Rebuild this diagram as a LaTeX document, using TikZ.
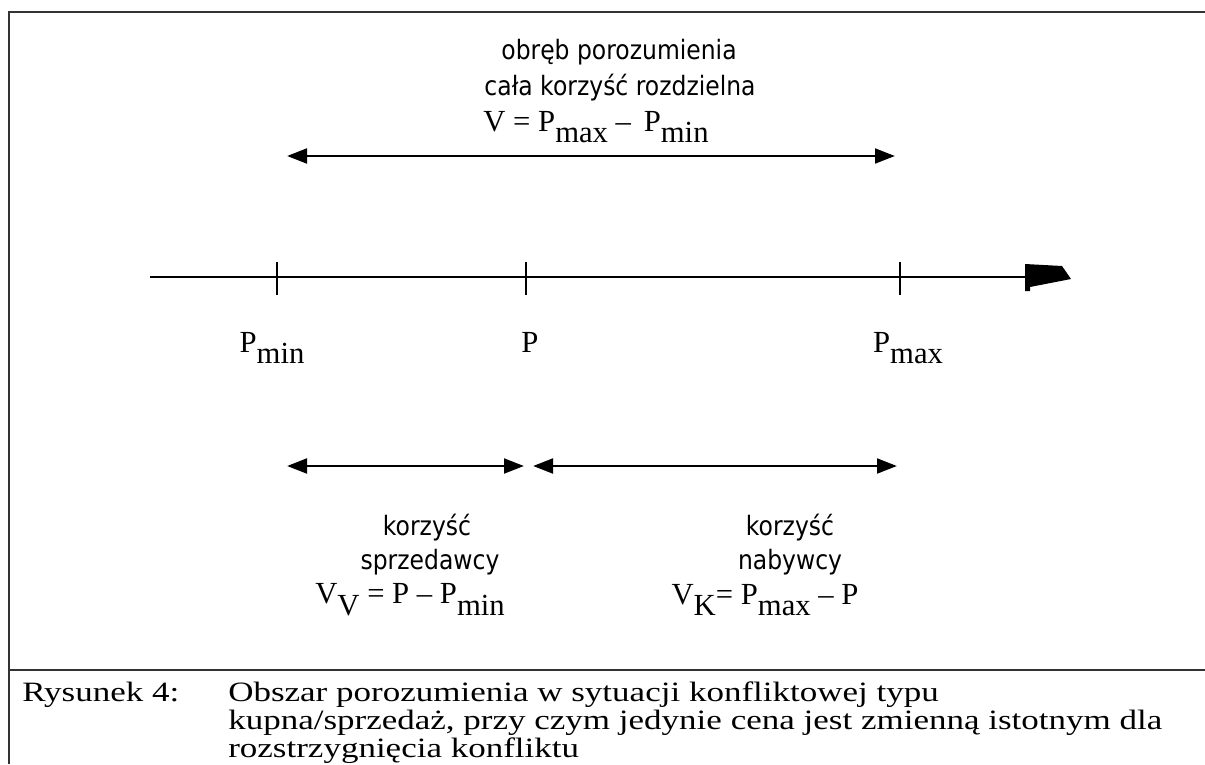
\documentclass[tikz,border=0pt]{standalone}
\usepackage{fontspec}
\usetikzlibrary{arrows.meta}
\newfontfamily\tms{Liberation Serif}
\newfontfamily\tmscap[FakeStretch=1.25]{Liberation Serif}
\newfontfamily\vsans[FakeStretch=0.88]{DejaVu Sans}
\newcommand{\lowsub}[1]{\raisebox{-0.38em}{#1}}
\tikzset{
  frameline/.style={line width=1.5pt, draw=black!80},
  axisline/.style={line width=2.2pt},
  rangearrow/.style={line width=2.2pt, {Triangle[length=15pt,width=11pt]}-{Triangle[length=15pt,width=11pt]}},
  tickline/.style={line width=1.6pt},
  sanslbl/.style={font=\vsans\fontsize{20pt}{23pt}\selectfont, inner sep=0pt, align=center},
  seriflbl/.style={font=\tms\fontsize{23pt}{26pt}\selectfont, inner sep=0pt},
  captxt/.style={font=\tmscap\fontsize{21pt}{24pt}\selectfont, inner sep=0pt, anchor=base west},
}
\begin{document}
\begin{tikzpicture}[x=0.75pt, y=-0.75pt]
\useasboundingbox (0,0) rectangle (1205,764);
% frame
\coordinate (ftl) at (9,12);
\coordinate (ftr) at (1205,12);
\coordinate (fbl) at (9,764);
\coordinate (sl) at (9,670);
\coordinate (sr) at (1205,670);
\draw[frameline] (fbl) -- (ftl) -- (ftr);
\draw[frameline] (sl) -- (sr);

% top labels
\node[sanslbl] (t1) at (619,52) {obręb porozumienia};
\node[sanslbl] (t2) at (620,88) {cała korzyść rozdzielna};
\node[seriflbl] (t3) at (596,127) {V = P\lowsub{max} – \,P\lowsub{min}};

% top range arrow
\coordinate (ra) at (287,156);
\coordinate (rb) at (895,156);
\draw[rangearrow] (ra) -- (rb);

% axis
\coordinate (ax0) at (150,277);
\coordinate (ax1) at (1027,277);
\draw[axisline] (ax0) -- (ax1);
\fill (1025,264) -- (1062,266) -- (1071,279) -- (1030,287) -- (1030,291) -- (1025,291) -- cycle;

% ticks
\coordinate (k1a) at (277,262); \coordinate (k1b) at (277,295);
\coordinate (k2a) at (526,262); \coordinate (k2b) at (526,295);
\coordinate (k3a) at (900,262); \coordinate (k3b) at (900,295);
\draw[tickline] (k1a) -- (k1b);
\draw[tickline] (k2a) -- (k2b);
\draw[tickline] (k3a) -- (k3b);

% tick labels
\node[seriflbl] (pmin) at (272,348) {P\lowsub{min}};
\node[seriflbl] (p) at (530,342) {P};
\node[seriflbl] (pmax) at (908,348) {P\lowsub{max}};

% bottom arrows
\coordinate (la) at (287,466);
\coordinate (lb) at (524,466);
\coordinate (rra) at (533,466);
\coordinate (rrb) at (897,466);
\draw[rangearrow] (la) -- (lb);
\draw[rangearrow] (rra) -- (rrb);

% bottom labels
\node[sanslbl] (s1) at (427,528) {korzyść};
\node[sanslbl] (s2) at (430,562) {sprzedawcy};
\node[seriflbl] (s3) at (410,600) {V\lowsub{V} = P – P\lowsub{min}};
\node[sanslbl] (b1) at (790,528) {korzyść};
\node[sanslbl] (b2) at (790,562) {nabywcy};
\node[seriflbl] (b3) at (765,600) {V\lowsub{K}= P\lowsub{max} – P};

% caption
\node[captxt] (cr) at (22,701) {Rysunek 4:};
\node[captxt] (c1) at (228,701) {Obszar porozumienia w sytuacji konfliktowej typu};
\node[captxt] (c2) at (228,729.5) {kupna/sprzedaż, przy czym jedynie cena jest zmienną istotnym dla};
\node[captxt] (c3) at (228,757.5) {rozstrzygnięcia konfliktu};
\end{tikzpicture}
\end{document}
